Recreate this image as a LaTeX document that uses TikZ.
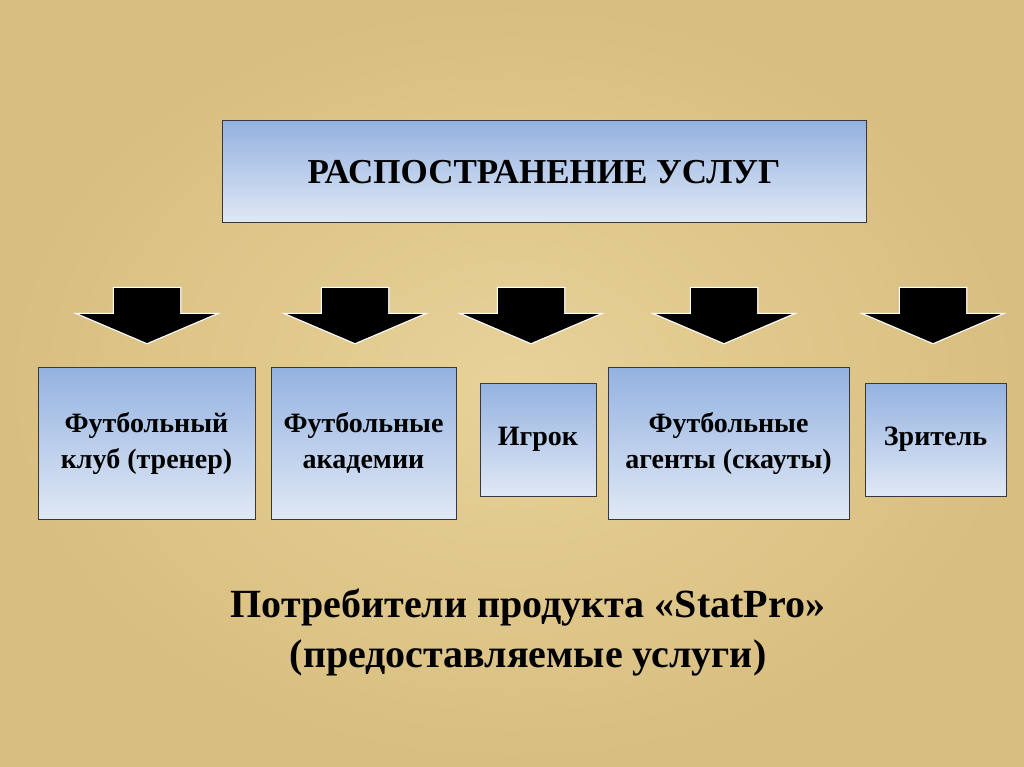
\documentclass[tikz,border=0pt]{standalone}
\usepackage{fontspec}
\setmainfont{Liberation Serif}
\usepackage{tikz}
\usetikzlibrary{calc}
\usepackage{xcolor}

\definecolor{papyrusin}{RGB}{232,210,152}
\definecolor{papyrusout}{RGB}{216,190,128}
\definecolor{boxtop}{RGB}{148,178,224}
\definecolor{boxbottom}{RGB}{224,232,245}
\definecolor{boxline}{RGB}{55,55,60}

\begin{document}
\begin{tikzpicture}[x=1pt, y=-1pt, font=\bfseries,
    box/.style={draw=boxline, line width=1pt, top color=boxtop, bottom color=boxbottom,
        align=center, inner sep=0pt, font=\bfseries\fontsize{28}{36}\selectfont}]

    % Background
    \useasboundingbox (0,0) rectangle (1024,767);
    \shade[inner color=papyrusin, outer color=papyrusout] (0,0) rectangle (1024,767);

    % Define parameters
    \def\shafthalf{33}  % half width of the arrow shaft
    \def\headhalf{68}   % half width of the arrow head
    \def\arrowtop{288}  % top of the shaft
    \def\arrowmid{314}  % shoulders of the head
    \def\arrowtip{343}  % tip

    % Top box
    \node[box, minimum width=644, minimum height=102, font=\bfseries\fontsize{35}{40}\selectfont]
        (top) at (544,172) {РАСПОСТРАНЕНИЕ УСЛУГ};

    % Consumer boxes
    \node[box, minimum width=217, minimum height=152] (club) at (146.5,443) {Футбольный\\клуб (тренер)};
    \node[box, minimum width=185, minimum height=152] (academy) at (363.5,443) {Футбольные\\академии};
    \node[box, minimum width=116, minimum height=113] (player) at (538,439.5) {Игрок};
    \node[box, minimum width=241, minimum height=152] (agents) at (728.5,443) {Футбольные\\агенты (скауты)};
    \node[box, minimum width=141, minimum height=113] (viewer) at (935.5,439.5) {Зритель};

    % Block arrows above the boxes
    \foreach \cx in {147,355,531,724,933} {
        \draw[white, line width=2.5pt, line join=miter]
            (\cx-\shafthalf,\arrowtop) -- (\cx+\shafthalf,\arrowtop) -- (\cx+\shafthalf,\arrowmid)
            -- (\cx+\headhalf,\arrowmid) -- (\cx,\arrowtip) -- (\cx-\headhalf,\arrowmid)
            -- (\cx-\shafthalf,\arrowmid) -- cycle;
        \fill[black]
            (\cx-\shafthalf,\arrowtop) -- (\cx+\shafthalf,\arrowtop) -- (\cx+\shafthalf,\arrowmid)
            -- (\cx+\headhalf,\arrowmid) -- (\cx,\arrowtip) -- (\cx-\headhalf,\arrowmid)
            -- (\cx-\shafthalf,\arrowmid) -- cycle;
    }

    % Caption
    \node[align=center, font=\bfseries\fontsize{40}{50}\selectfont] (caption) at (528,632)
        {Потребители продукта «StatPro»\\(предоставляемые услуги)};

\end{tikzpicture}
\end{document}
